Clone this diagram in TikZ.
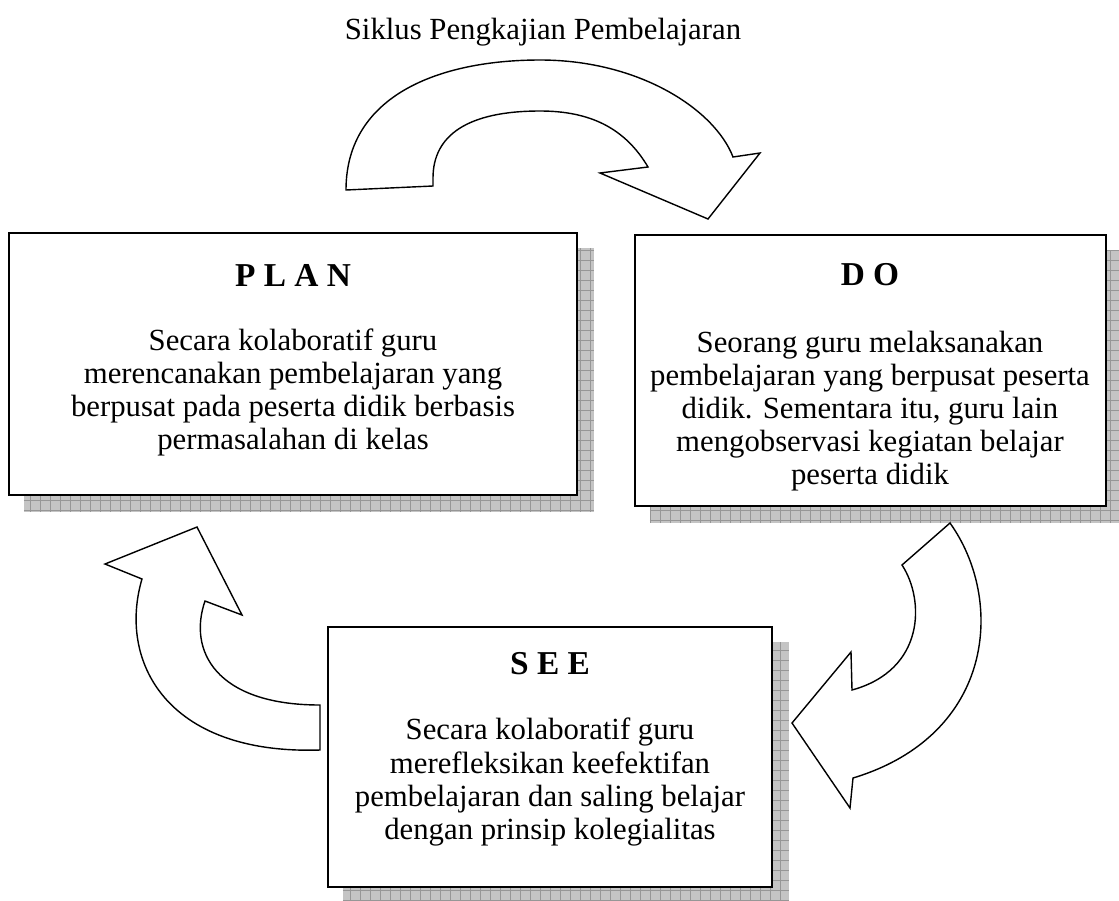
\documentclass[tikz,border=0pt]{standalone}
\usepackage{fontspec}
\setmainfont{Liberation Serif}
\usepackage{tikz}
\usetikzlibrary{positioning, backgrounds}
\definecolor{shadowgray}{RGB}{196, 196, 196}
\definecolor{gridgray}{RGB}{150, 150, 150}

% grey hatched shadow behind a box
\newcommand{\boxshadow}[1]{%
  \begin{scope}
    \clip ([shift={(16,16)}]#1.south west) rectangle ([shift={(16,16)}]#1.north east);
    \fill[shadowgray] ([shift={(16,16)}]#1.south west) rectangle ([shift={(16,16)}]#1.north east);
    \draw[gridgray, line width=0.3pt, step=0.2cm] ([shift={(16,16)}]#1.south west) grid ([shift={(16,16)}]#1.north east);
  \end{scope}}

\begin{document}
\begin{tikzpicture}[x=0.02cm, y=-0.02cm,
  stagebox/.style={draw, line width=1.4pt, fill=white},
  headtext/.style={font=\fontsize{19}{22}\selectfont\bfseries, inner sep=0pt},
  bodytext/.style={font=\fontsize{17.5}{18.8}\selectfont, align=center, inner sep=0pt},
  bentarrow/.style={draw, line width=0.8pt, fill=white, line join=miter}]
  \useasboundingbox (0,0) rectangle (1119,900);

  % Title
  \node[bodytext] (cycle) at (543,32) {Siklus Pengkajian Pembelajaran};

  % Plan box
  \node[stagebox, minimum width=11.36cm, minimum height=5.24cm] (plan) at (293,364) {};
  \node[headtext] (plantitle) at (293,275) {P L A N};
  \node[bodytext] (plantext) at (293,392) {Secara kolaboratif guru\\merencanakan pembelajaran yang\\berpusat pada peserta didik berbasis\\permasalahan di kelas};

  % Do box
  \node[stagebox, minimum width=9.42cm, minimum height=5.42cm] (do) at (870.5,370.5) {};
  \node[headtext] (dotitle) at (870,275) {D O};
  \node[bodytext] (dotext) at (870,411) {Seorang guru melaksanakan\\pembelajaran yang berpusat peserta\\didik. Sementara itu, guru lain\\mengobservasi kegiatan belajar\\peserta didik};

  % See box
  \node[stagebox, minimum width=8.88cm, minimum height=5.2cm] (see) at (550,757) {};
  \node[headtext] (seetitle) at (550,664) {S E E};
  \node[bodytext] (seetext) at (550,782) {Secara kolaboratif guru\\merefleksikan keefektifan\\pembelajaran dan saling belajar\\dengan prinsip kolegialitas};

  % Shadows
  \begin{scope}[on background layer]
    \boxshadow{plan}
    \boxshadow{do}
    \boxshadow{see}
  \end{scope}

  % Curved arrow plan -> do
  \draw[bentarrow] (346,190) .. controls (346,95) and (440,60) .. (540,60)
    .. controls (640,60) and (715,110) .. (733,157)
    -- (760,153) -- (708,219) -- (600,173) -- (648,167)
    .. controls (625,128) and (590,111) .. (540,111)
    .. controls (468,111) and (433,135) .. (433,178) -- (433,186) -- cycle;

  % Curved arrow do -> see
  \draw[bentarrow] (950,523) .. controls (1005,600) and (995,735) .. (853,778)
    -- (850,808) -- (792,723) -- (851,652) -- (852,690)
    .. controls (925,670) and (925,600) .. (902,565) -- cycle;

  % Curved arrow see -> plan
  \draw[bentarrow] (320,750) .. controls (165,755) and (118,660) .. (142,579)
    -- (105,564) -- (197,527) -- (242,615) -- (205,601)
    .. controls (188,650) and (215,705) .. (320,705) -- cycle;
\end{tikzpicture}
\end{document}
